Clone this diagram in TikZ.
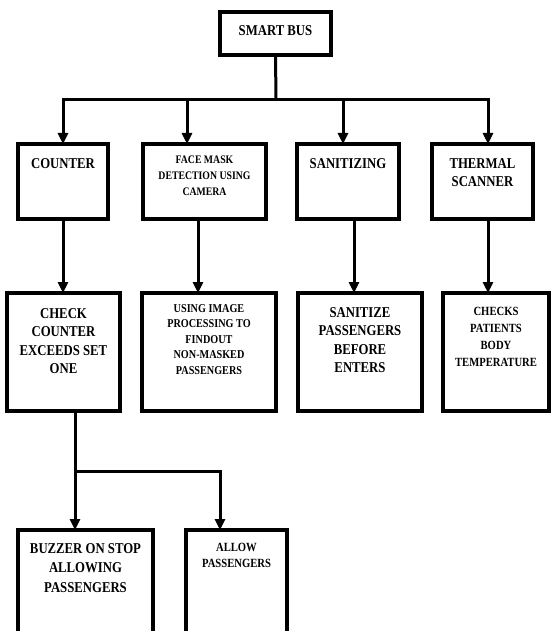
\documentclass[tikz,border=0pt]{standalone}
\usepackage{fontspec}
\setmainfont{Liberation Serif}[FakeStretch=0.85]
\usetikzlibrary{arrows.meta}
\tikzset{
  blk/.style={draw,line width=3.6pt,inner sep=0pt,outer sep=0pt},
  lnk/.style={line width=3pt},
  arr/.style={lnk,-{Triangle[length=11pt,width=10pt]}},
  big/.style={font=\fontsize{15}{18.5}\selectfont\bfseries},
  sml/.style={font=\fontsize{12}{15.5}\selectfont\bfseries},
  lbl/.style={anchor=north,inner sep=0pt,align=center,yshift=-14pt}
}

\begin{document}
\begin{tikzpicture}[x=1pt,y=-1pt]
      \clip (0,0) rectangle (552,631);
      \fill[white] (0,0) rectangle (552,631);
      % top
      \node[blk,minimum width=111pt,minimum height=43pt,label={[lbl,big,yshift=1pt]north:SMART BUS}] (bus) at (275.5,33.5) {};
      % first row
      \node[blk,minimum width=90pt,minimum height=75pt,label={[lbl,big]north:COUNTER}] (counter) at (63,181.5) {};
      \node[blk,minimum width=123pt,minimum height=75pt,label={[lbl,sml,font=\fontsize{11.5}{16}\selectfont\bfseries,yshift=2pt]north:{FACE MASK\\DETECTION USING\\CAMERA}}] (facemask) at (204.5,181.5) {};
      \node[blk,minimum width=102pt,minimum height=75pt,label={[lbl,big]north:SANITIZING}] (sanitizing) at (348,181.5) {};
      \node[blk,minimum width=101pt,minimum height=75pt,label={[lbl,big]north:{THERMAL\\SCANNER}}] (thermal) at (482.5,181.5) {};
      % second row
      \node[blk,minimum width=113pt,minimum height=118pt,label={[lbl,big,yshift=-1pt]north:{CHECK\\COUNTER\\EXCEEDS SET\\ONE}}] (check) at (63.5,352) {};
      \node[blk,minimum width=134pt,minimum height=118pt,label={[lbl,sml,yshift=3pt]north:{USING IMAGE\\PROCESSING TO\\FINDOUT\\NON-MASKED\\PASSENGERS}}] (imgproc) at (209,352) {};
      \node[blk,minimum width=124pt,minimum height=118pt,label={[lbl,big]north:{SANITIZE\\PASSENGERS\\BEFORE\\ENTERS}}] (sanitize) at (360,352) {};
      \node[blk,minimum width=106pt,minimum height=118pt,label={[lbl,sml,font=\fontsize{12.5}{17}\selectfont\bfseries]north:{CHECKS\\PATIENTS\\BODY\\TEMPERATURE}}] (checks) at (496,352) {};
      % third row
      \node[blk,minimum width=135pt,minimum height=115pt,label={[lbl,big,yshift=1pt,font=\fontsize{15}{19.5}\selectfont\bfseries]north:{BUZZER ON STOP\\ALLOWING\\PASSENGERS}}] (buzzer) at (85.5,587.5) {};
      \node[blk,minimum width=101pt,minimum height=115pt,label={[lbl,sml,yshift=1pt,font=\fontsize{12.5}{16}\selectfont\bfseries]north:{ALLOW\\PASSENGERS}}] (allow) at (236.5,587.5) {};
      % links
      \coordinate (bar) at (276,100);
      \coordinate (split) at (75,471);
      \draw[lnk] (bus.south) -- (bar);
      \draw[arr] (bar) -| (counter.north);
      \draw[arr] (bar) -| ([xshift=-17.5pt]facemask.north);
      \draw[arr] (bar) -| ([xshift=-5pt]sanitizing.north);
      \draw[arr] (bar) -| ([xshift=5.5pt]thermal.north);
      \draw[arr] (counter.south) -- (check.north -| counter.south);
      \draw[arr] ([xshift=-6.5pt]facemask.south) -- ([xshift=-11pt]imgproc.north);
      \draw[arr] ([xshift=6pt]sanitizing.south) -- ([xshift=-6pt]sanitize.north);
      \draw[arr] ([xshift=5.5pt]thermal.south) -- ([xshift=-8pt]checks.north);
      \draw[lnk] ([xshift=11.5pt]check.south) -- (split);
      \draw[arr] (split) -- ([xshift=-10.5pt]buzzer.north);
      \draw[arr] (split) -| ([xshift=-16.5pt]allow.north);
    \end{tikzpicture}
\end{document}
